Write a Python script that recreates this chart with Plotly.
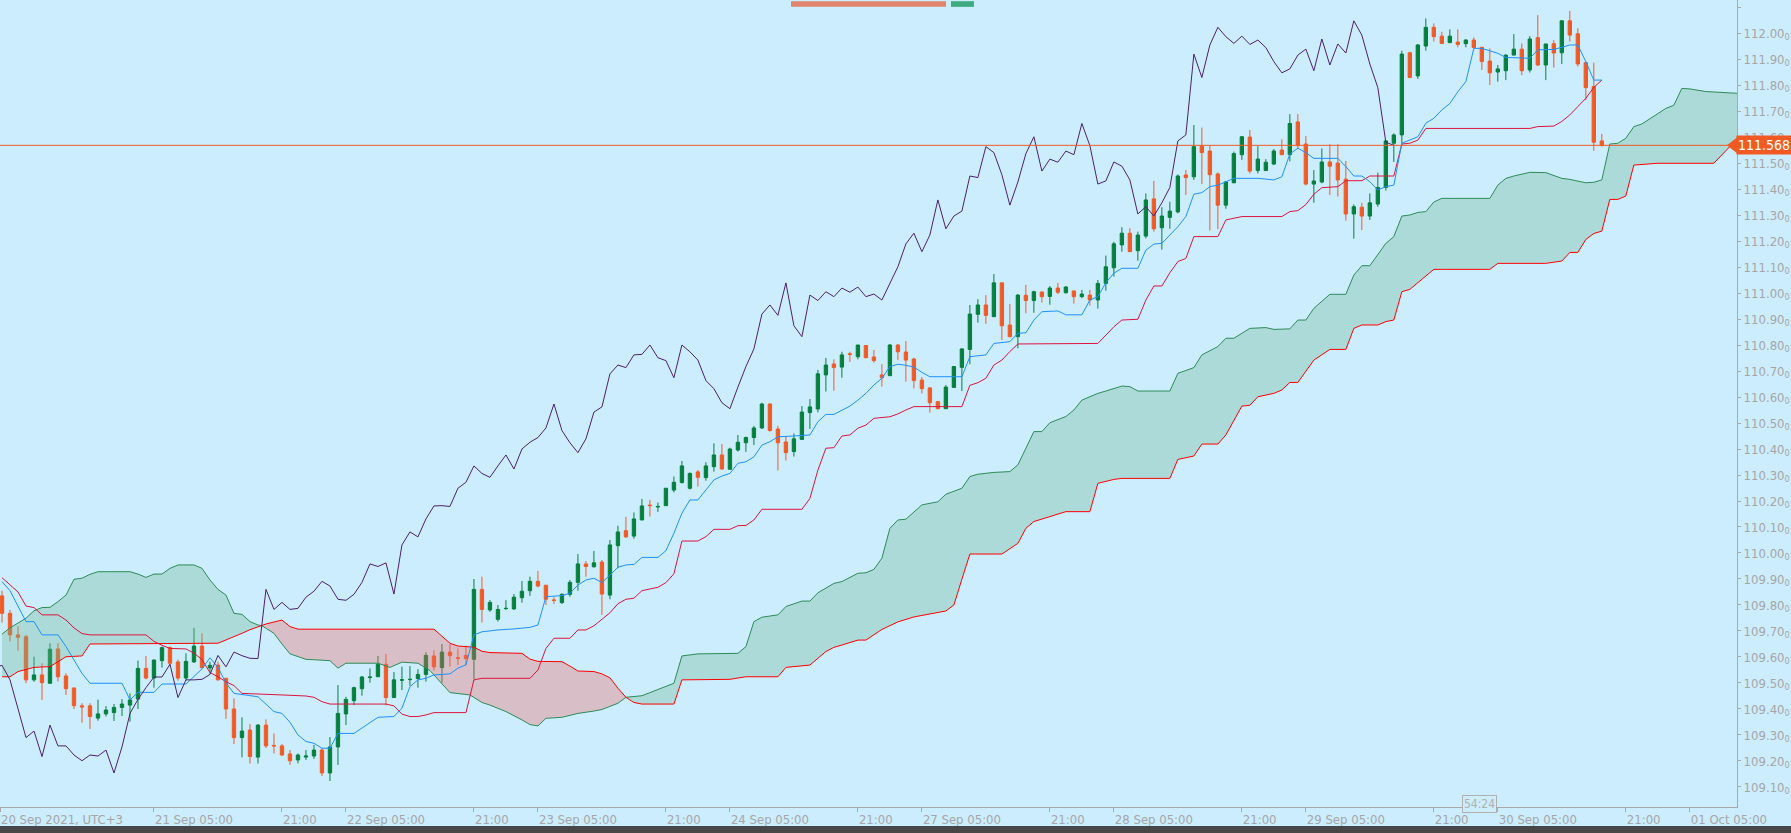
import plotly.graph_objects as go

# USDJPY H1 with Ichimoku, bar index 0 = 20 Sep 2021 10:00 (weekend removed)
bar_open = [
    109.835, 109.768, 109.685, 109.678, 109.512, 109.531, 109.499, 109.631, 109.527, 109.481,
    109.412, 109.412, 109.365, 109.381, 109.386, 109.406, 109.415, 109.438, 109.556, 109.519,
    109.586, 109.636, 109.581, 109.519, 109.581, 109.642, 109.558, 109.569, 109.518, 109.400,
    109.290, 109.319, 109.215, 109.338, 109.260, 109.258, 109.227, 109.204, 109.215, 109.219,
    109.242, 109.154, 109.254, 109.381, 109.432, 109.478, 109.521, 109.524, 109.572, 109.444,
    109.511, 109.513, 109.517, 109.533, 109.604, 109.559, 109.619, 109.597, 109.606, 109.591,
    109.860, 109.781, 109.745, 109.786, 109.785, 109.828, 109.855, 109.891, 109.876, 109.819,
    109.809, 109.841, 109.887, 109.958, 109.947, 109.965, 109.838, 110.028, 110.086, 110.065,
    110.127, 110.184, 110.177, 110.182, 110.242, 110.271, 110.249, 110.312, 110.290, 110.332,
    110.377, 110.322, 110.396, 110.424, 110.444, 110.481, 110.573, 110.477, 110.427, 110.390,
    110.437, 110.540, 110.554, 110.685, 110.727, 110.715, 110.766, 110.755, 110.798, 110.754,
    110.685, 110.682, 110.800, 110.773, 110.746, 110.665, 110.635, 110.582, 110.555, 110.637,
    110.714, 110.783, 110.918, 110.954, 110.909, 111.039, 110.877, 110.832, 110.991, 110.971,
    111.004, 110.987, 111.019, 111.001, 111.008, 110.986, 110.992, 110.973, 111.037, 111.097,
    111.185, 111.230, 111.163, 111.219, 111.362, 111.251, 111.291, 111.312, 111.454, 111.447,
    111.565, 111.546, 111.458, 111.338, 111.424, 111.532, 111.600, 111.471, 111.471, 111.496,
    111.550, 111.532, 111.658, 111.573, 111.419, 111.427, 111.504, 111.500, 111.438, 111.304,
    111.330, 111.296, 111.342, 111.406, 111.576, 111.608, 111.924, 111.835, 111.950, 112.022,
    111.988, 111.963, 111.965, 111.959, 111.973, 111.945, 111.892, 111.850, 111.855, 111.915,
    111.938, 111.858, 111.982, 111.877, 111.959, 111.924, 112.047, 111.997, 111.886, 111.794,
    111.585,
]
bar_high = [
    109.855, 109.781, 109.719, 109.685, 109.601, 109.576, 109.653, 109.653, 109.537, 109.481,
    109.422, 109.422, 109.436, 109.411, 109.419, 109.438, 109.460, 109.586, 109.604, 109.591,
    109.640, 109.640, 109.590, 109.614, 109.712, 109.691, 109.582, 109.582, 109.518, 109.441,
    109.368, 109.342, 109.342, 109.360, 109.306, 109.265, 109.242, 109.229, 109.242, 109.262,
    109.250, 109.292, 109.492, 109.447, 109.486, 109.527, 109.556, 109.604, 109.612, 109.542,
    109.563, 109.565, 109.553, 109.618, 109.626, 109.650, 109.650, 109.633, 109.644, 109.900,
    109.909, 109.819, 109.800, 109.819, 109.842, 109.892, 109.909, 109.931, 109.877, 109.830,
    109.845, 109.896, 109.996, 109.969, 110.008, 109.973, 110.050, 110.105, 110.139, 110.156,
    110.208, 110.204, 110.194, 110.250, 110.294, 110.354, 110.310, 110.319, 110.349, 110.422,
    110.419, 110.405, 110.454, 110.448, 110.489, 110.578, 110.576, 110.489, 110.448, 110.460,
    110.565, 110.592, 110.704, 110.750, 110.745, 110.774, 110.774, 110.800, 110.800, 110.781,
    110.726, 110.804, 110.804, 110.815, 110.751, 110.676, 110.637, 110.585, 110.646, 110.719,
    110.787, 110.954, 110.976, 110.992, 111.073, 111.039, 110.958, 110.996, 111.031, 111.009,
    111.006, 111.027, 111.039, 111.027, 111.008, 111.012, 111.012, 111.050, 111.144, 111.197,
    111.253, 111.249, 111.236, 111.383, 111.431, 111.330, 111.351, 111.456, 111.473, 111.646,
    111.636, 111.567, 111.464, 111.431, 111.544, 111.604, 111.627, 111.565, 111.515, 111.554,
    111.591, 111.688, 111.688, 111.604, 111.473, 111.556, 111.572, 111.572, 111.508, 111.341,
    111.347, 111.383, 111.463, 111.588, 111.614, 111.932, 111.928, 111.958, 112.056, 112.037,
    112.005, 112.014, 112.014, 111.976, 111.983, 111.947, 111.941, 111.877, 111.918, 111.996,
    111.960, 111.988, 112.069, 111.958, 111.973, 112.050, 112.085, 112.018, 111.890, 111.886,
    111.612,
]
bar_low = [
    109.732, 109.659, 109.624, 109.499, 109.505, 109.435, 109.496, 109.506, 109.454, 109.400,
    109.347, 109.323, 109.355, 109.371, 109.354, 109.373, 109.351, 109.400, 109.514, 109.482,
    109.559, 109.565, 109.509, 109.511, 109.578, 109.556, 109.537, 109.510, 109.362, 109.265,
    109.214, 109.190, 109.190, 109.250, 109.229, 109.219, 109.185, 109.191, 109.204, 109.208,
    109.142, 109.123, 109.185, 109.338, 109.415, 109.451, 109.501, 109.524, 109.414, 109.444,
    109.473, 109.489, 109.482, 109.505, 109.548, 109.501, 109.563, 109.569, 109.568, 109.514,
    109.732, 109.774, 109.736, 109.781, 109.781, 109.809, 109.835, 109.868, 109.800, 109.804,
    109.804, 109.832, 109.855, 109.909, 109.944, 109.762, 109.822, 109.941, 110.058, 110.055,
    110.127, 110.140, 110.158, 110.181, 110.233, 110.267, 110.244, 110.255, 110.278, 110.313,
    110.321, 110.321, 110.390, 110.389, 110.415, 110.477, 110.467, 110.317, 110.355, 110.371,
    110.435, 110.477, 110.541, 110.621, 110.624, 110.674, 110.735, 110.745, 110.750, 110.732,
    110.640, 110.681, 110.742, 110.659, 110.633, 110.614, 110.540, 110.553, 110.555, 110.637,
    110.623, 110.726, 110.886, 110.882, 110.909, 110.819, 110.830, 110.787, 110.922, 110.924,
    110.963, 110.955, 110.996, 110.998, 110.959, 110.980, 110.951, 110.940, 111.009, 111.063,
    111.159, 111.159, 111.124, 111.210, 111.236, 111.167, 111.247, 111.306, 111.377, 111.435,
    111.419, 111.240, 111.246, 111.324, 111.422, 111.512, 111.460, 111.460, 111.471, 111.492,
    111.532, 111.506, 111.554, 111.414, 111.347, 111.422, 111.377, 111.371, 111.278, 111.209,
    111.242, 111.281, 111.332, 111.394, 111.504, 111.576, 111.826, 111.823, 111.932, 111.967,
    111.958, 111.963, 111.945, 111.945, 111.941, 111.858, 111.800, 111.813, 111.819, 111.915,
    111.838, 111.848, 111.873, 111.819, 111.867, 111.881, 111.967, 111.871, 111.742, 111.547,
    111.563,
]
bar_close = [
    109.768, 109.685, 109.676, 109.512, 109.531, 109.501, 109.630, 109.524, 109.478, 109.413,
    109.408, 109.371, 109.381, 109.396, 109.406, 109.419, 109.435, 109.556, 109.519, 109.588,
    109.636, 109.576, 109.519, 109.583, 109.642, 109.559, 109.568, 109.512, 109.400, 109.290,
    109.315, 109.217, 109.338, 109.258, 109.258, 109.223, 109.201, 109.223, 109.219, 109.242,
    109.154, 109.254, 109.383, 109.437, 109.482, 109.523, 109.523, 109.572, 109.444, 109.512,
    109.512, 109.514, 109.533, 109.606, 109.562, 109.619, 109.605, 109.595, 109.594, 109.860,
    109.783, 109.810, 109.783, 109.787, 109.830, 109.853, 109.891, 109.873, 109.822, 109.818,
    109.841, 109.887, 109.958, 109.948, 109.962, 109.842, 110.031, 110.081, 110.062, 110.131,
    110.181, 110.182, 110.179, 110.249, 110.272, 110.335, 110.306, 110.291, 110.335, 110.377,
    110.323, 110.400, 110.426, 110.444, 110.481, 110.573, 110.471, 110.424, 110.386, 110.439,
    110.542, 110.562, 110.689, 110.723, 110.713, 110.762, 110.764, 110.800, 110.751, 110.740,
    110.674, 110.800, 110.774, 110.742, 110.663, 110.632, 110.578, 110.555, 110.638, 110.717,
    110.785, 110.919, 110.954, 110.914, 111.039, 110.874, 110.832, 110.992, 110.971, 111.005,
    110.986, 111.019, 111.003, 111.023, 110.986, 110.996, 110.973, 111.037, 111.101, 111.189,
    111.230, 111.159, 111.223, 111.358, 111.247, 111.296, 111.315, 111.450, 111.444, 111.563,
    111.540, 111.455, 111.338, 111.427, 111.536, 111.601, 111.469, 111.515, 111.503, 111.546,
    111.532, 111.652, 111.567, 111.419, 111.431, 111.504, 111.488, 111.435, 111.304, 111.332,
    111.296, 111.347, 111.406, 111.585, 111.608, 111.919, 111.829, 111.954, 112.022, 111.986,
    111.960, 111.988, 111.956, 111.973, 111.944, 111.890, 111.847, 111.862, 111.915, 111.938,
    111.855, 111.977, 111.877, 111.958, 111.923, 112.047, 111.992, 111.881, 111.790, 111.580,
    111.568,
]

# Ichimoku lines (bar index, price)
tenkan_x = [0, 1, 3, 4, 5, 7, 8, 10, 11, 15, 16, 17, 19, 20, 23, 24, 25, 26, 27, 28, 29, 32, 34, 35, 36, 37, 38, 39,
            40, 41, 42, 44, 45, 46, 47, 49, 50, 51, 52, 53, 54, 56, 57, 58, 59, 60, 62, 64, 66, 67, 68, 70, 71, 72,
            73, 74, 75, 76, 77, 78, 79, 80, 82, 83, 84, 85, 86, 87, 88, 89, 90, 91, 92, 93, 94, 95, 96, 97, 99,
            101, 102, 103, 104, 105, 106, 107, 108, 109, 110, 111, 112, 113, 114, 115, 116, 120, 121, 123, 124,
            126, 127, 128, 129, 130, 132, 133, 135, 136, 137, 138, 139, 140, 142, 143, 144, 145, 146, 147, 148,
            149, 150, 151, 152, 154, 157, 159, 160, 161, 162, 163, 164, 167, 168, 169, 170, 171, 172, 173, 174,
            175, 177, 178, 179, 180, 181, 182, 183, 184, 185, 186, 187, 188, 191, 192, 194, 195, 196, 197, 198,
            199, 200]
tenkan_y = [109.890, 109.855, 109.736, 109.736, 109.685, 109.685, 109.640, 109.537, 109.499, 109.499, 109.435,
            109.464, 109.464, 109.496, 109.496, 109.524, 109.554, 109.597, 109.560, 109.500, 109.460, 109.447,
            109.390, 109.383, 109.349, 109.300, 109.275, 109.268, 109.249, 109.249, 109.306, 109.306, 109.326,
            109.345, 109.368, 109.371, 109.403, 109.486, 109.512, 109.518, 109.531, 109.535, 109.557, 109.570,
            109.685, 109.697, 109.704, 109.708, 109.714, 109.723, 109.832, 109.836, 109.845, 109.877, 109.896,
            109.903, 109.886, 109.915, 109.945, 109.954, 109.956, 109.983, 109.983, 110.009, 110.076, 110.153,
            110.204, 110.204, 110.242, 110.281, 110.296, 110.306, 110.345, 110.351, 110.370, 110.415, 110.428,
            110.447, 110.450, 110.454, 110.505, 110.533, 110.533, 110.550, 110.565, 110.588, 110.614, 110.646,
            110.672, 110.717, 110.726, 110.722, 110.715, 110.695, 110.678, 110.678, 110.755, 110.762, 110.806,
            110.813, 110.845, 110.847, 110.896, 110.928, 110.931, 110.916, 110.916, 110.973, 110.986, 111.040,
            111.076, 111.095, 111.095, 111.165, 111.188, 111.191, 111.223, 111.255, 111.294, 111.380, 111.386,
            111.409, 111.415, 111.441, 111.441, 111.435, 111.447, 111.535, 111.557, 111.540, 111.518, 111.518,
            111.486, 111.450, 111.450, 111.428, 111.396, 111.409, 111.415, 111.576, 111.601, 111.653, 111.672,
            111.704, 111.729, 111.774, 111.813, 111.941, 111.941, 111.930, 111.922, 111.906, 111.903, 111.935,
            111.937, 111.945, 111.954, 111.954, 111.890, 111.819, 111.819]

kijun_x = [0, 1, 2, 3, 4, 5, 7, 8, 9, 10, 11, 18, 19, 20, 21, 23, 24, 25, 26, 27, 28, 29, 30, 35, 38, 39, 40, 41,
           48, 49, 50, 51, 52, 53, 54, 58, 59, 60, 66, 67, 68, 69, 71, 72, 73, 74, 75, 76, 77, 78, 79, 80, 82, 83,
           84, 85, 87, 88, 89, 91, 92, 93, 94, 95, 100, 101, 102, 103, 104, 105, 106, 107, 108, 109, 111, 112, 113,
           114, 120, 121, 122, 123, 124, 125, 126, 127, 137, 138, 139, 140, 142, 143, 144, 145, 146, 147, 148, 149,
           152, 153, 155, 160, 161, 162, 163, 164, 165, 167, 168, 170, 171, 174, 175, 176, 177, 178, 191, 192, 194,
           195, 196, 197, 198, 199, 200]
kijun_y = [109.905, 109.877, 109.850, 109.796, 109.790, 109.762, 109.762, 109.742, 109.712, 109.690, 109.685,
           109.685, 109.660, 109.645, 109.633, 109.631, 109.615, 109.590, 109.540, 109.524, 109.505, 109.490,
           109.460, 109.454, 109.450, 109.445, 109.428, 109.419, 109.419, 109.412, 109.380, 109.371, 109.371,
           109.377, 109.386, 109.386, 109.512, 109.518, 109.518, 109.550, 109.633, 109.672, 109.672, 109.704,
           109.704, 109.720, 109.745, 109.770, 109.805, 109.822, 109.826, 109.855, 109.868, 109.886, 109.920,
           110.046, 110.046, 110.063, 110.091, 110.091, 110.105, 110.106, 110.127, 110.168, 110.168, 110.210,
           110.319, 110.403, 110.405, 110.450, 110.454, 110.480, 110.492, 110.518, 110.524, 110.535, 110.550,
           110.563, 110.563, 110.645, 110.655, 110.672, 110.723, 110.742, 110.775, 110.804, 110.806, 110.840,
           110.870, 110.896, 110.899, 110.973, 111.027, 111.027, 111.078, 111.121, 111.133, 111.217, 111.217,
           111.281, 111.294, 111.294, 111.313, 111.317, 111.340, 111.380, 111.405, 111.409, 111.432, 111.432,
           111.450, 111.450, 111.573, 111.576, 111.588, 111.633, 111.633, 111.640, 111.642, 111.660, 111.685,
           111.717, 111.749, 111.791, 111.819]

span_a_x = [0, 1, 3, 4, 5, 6, 7, 8, 9, 10, 11, 12, 16, 17, 18, 19, 20, 21, 22, 24, 25, 26, 27, 28, 29, 30, 31, 32,
            32.5, 34, 35, 36, 38, 41, 42, 43, 47, 48.5, 50, 52, 53.5, 55, 56, 58.5, 60, 61, 63, 65, 66, 67, 68, 70,
            72, 74, 75, 77, 78, 80, 81, 84, 85, 87, 92, 93, 94, 95, 97, 98, 100, 101, 102, 104, 105, 107, 108, 109,
            110, 111, 112, 113, 115, 117, 118, 120, 121, 122, 124, 126, 127, 129, 130, 131, 133, 134, 135, 137,
            138, 140, 141, 142, 146, 147, 149, 150, 152, 153, 154, 156, 158, 159, 161, 162, 163, 164, 166, 168,
            169, 170, 171, 172, 173, 174, 175, 176, 177, 178, 179, 180, 186, 187, 188, 189, 191, 193, 195, 196,
            198, 199, 200, 201, 202, 203, 204, 205, 207, 208, 209, 210, 211, 213, 217]
span_a_y = [109.688, 109.712, 109.749, 109.778, 109.790, 109.791, 109.813, 109.838, 109.899, 109.903, 109.918,
            109.928, 109.928, 109.919, 109.906, 109.919, 109.919, 109.941, 109.954, 109.954, 109.941, 109.896,
            109.860, 109.838, 109.768, 109.764, 109.736, 109.723, 109.720, 109.691, 109.650, 109.612, 109.591,
            109.586, 109.557, 109.576, 109.576, 109.560, 109.580, 109.576, 109.548, 109.499, 109.463, 109.454,
            109.425, 109.415, 109.390, 109.358, 109.340, 109.335, 109.364, 109.368, 109.383, 109.392, 109.398,
            109.422, 109.445, 109.451, 109.463, 109.499, 109.604, 109.612, 109.614, 109.640, 109.736, 109.753,
            109.762, 109.794, 109.815, 109.815, 109.847, 109.883, 109.890, 109.922, 109.924, 109.937, 109.980,
            110.095, 110.127, 110.130, 110.185, 110.197, 110.226, 110.249, 110.294, 110.303, 110.310, 110.313,
            110.339, 110.467, 110.467, 110.501, 110.525, 110.550, 110.588, 110.614, 110.623, 110.642, 110.640,
            110.623, 110.623, 110.691, 110.713, 110.762, 110.794, 110.826, 110.826, 110.864, 110.867, 110.860,
            110.862, 110.896, 110.896, 110.941, 110.995, 110.995, 111.069, 111.105, 111.105, 111.146, 111.191,
            111.217, 111.296, 111.300, 111.310, 111.313, 111.350, 111.364, 111.364, 111.415, 111.441, 111.450,
            111.464, 111.463, 111.441, 111.437, 111.424, 111.426, 111.435, 111.573, 111.576, 111.595, 111.640,
            111.650, 111.690, 111.710, 111.722, 111.787, 111.785, 111.775, 111.768]

span_b_x = [0, 1, 2, 4, 6, 8, 10, 11, 27, 28, 29, 30, 31, 32, 32.5, 33, 35, 36, 37, 54, 55, 56, 57, 59, 60, 61, 65,
            66, 67, 70, 71, 72, 74, 75, 76, 77, 78, 79, 80, 84, 85, 91, 93, 97, 98, 101, 103, 104, 105, 107, 108,
            110, 112, 114, 118, 119, 120, 121, 125, 127, 128, 129, 131, 133, 136, 137, 139, 140, 146, 147, 149,
            150, 152, 153, 155, 156, 157, 159, 160, 161, 162, 164, 166, 168, 169, 170, 172, 173, 174, 175, 176,
            179, 186, 187, 193, 195, 196, 197, 198, 199, 200, 201, 202, 203, 204, 205, 207, 214, 215, 216, 217]
span_b_y = [109.524, 109.524, 109.544, 109.560, 109.563, 109.601, 109.604, 109.650, 109.653, 109.665, 109.680,
            109.691, 109.705, 109.715, 109.720, 109.727, 109.742, 109.717, 109.707, 109.707, 109.680, 109.653,
            109.642, 109.638, 109.622, 109.617, 109.614, 109.592, 109.583, 109.582, 109.565, 109.546, 109.544,
            109.535, 109.520, 109.480, 109.445, 109.425, 109.419, 109.419, 109.512, 109.514, 109.524, 109.524,
            109.560, 109.569, 109.621, 109.637, 109.646, 109.665, 109.665, 109.706, 109.735, 109.754, 109.777,
            109.800, 109.899, 109.996, 109.996, 110.037, 110.095, 110.121, 110.140, 110.159, 110.159, 110.268,
            110.283, 110.287, 110.287, 110.360, 110.373, 110.419, 110.419, 110.454, 110.565, 110.568, 110.601,
            110.614, 110.627, 110.656, 110.656, 110.742, 110.783, 110.783, 110.864, 110.877, 110.877, 110.890,
            110.896, 111.005, 111.014, 111.091, 111.091, 111.114, 111.114, 111.123, 111.156, 111.156, 111.206,
            111.229, 111.238, 111.360, 111.360, 111.373, 111.492, 111.495, 111.499, 111.499, 111.531, 111.563,
            111.585]

# cloud colour changes where the spans cross
cloud_cuts = [0, 32.5, 78, 217]
cloud_colors = ["rgba(113,182,146,0.35)", "rgba(238,105,98,0.35)", "rgba(113,182,146,0.35)"]

chikou_shift = 26
last_price = 111.568

tick_bars = [-0.25, 19, 35, 43, 59, 67, 83, 91, 107, 115, 131, 139, 155, 163, 179, 187, 203, 211]
tick_text = ["20 Sep 2021, UTC+3", "21 Sep 05:00", "21:00", "22 Sep 05:00", "21:00", "23 Sep 05:00", "21:00",
             "24 Sep 05:00", "21:00", "27 Sep 05:00", "21:00", "28 Sep 05:00", "21:00", "29 Sep 05:00", "21:00",
             "30 Sep 05:00", "21:00", "01 Oct 05:00"]
price_ticks = [round(109.1 + 0.1 * k, 2) for k in range(31)]

bg = "#CCEDFD"
axis_grey = "#A9A9A9"
label_font = dict(family="Liberation Sans Narrow, DejaVu Sans Condensed, sans-serif", size=13, color="#A6A6A6")
bars = list(range(len(bar_close)))

fig = go.Figure()
fig.add_trace(go.Candlestick(
    x=bars, open=bar_open, high=bar_high, low=bar_low, close=bar_close,
    increasing=dict(line=dict(color="#04803C", width=1), fillcolor="#04803C"),
    decreasing=dict(line=dict(color="#F25A24", width=1), fillcolor="#F25A24"),
    whiskerwidth=0, hoverinfo="skip",
))

# cloud fills, one polygon per colour segment
for lo, hi, col in zip(cloud_cuts[:-1], cloud_cuts[1:], cloud_colors):
    ax = [x for x in span_a_x if lo <= x <= hi]
    ay = [y for x, y in zip(span_a_x, span_a_y) if lo <= x <= hi]
    bx = [x for x in span_b_x if lo <= x <= hi]
    by = [y for x, y in zip(span_b_x, span_b_y) if lo <= x <= hi]
    fig.add_trace(go.Scatter(x=ax + bx[::-1], y=ay + by[::-1], fill="toself", fillcolor=col,
                             line=dict(width=0), mode="lines", hoverinfo="skip"))

fig.add_trace(go.Scatter(x=span_a_x, y=span_a_y, mode="lines", line=dict(color="#2E8B57", width=1)))
fig.add_trace(go.Scatter(x=span_b_x, y=span_b_y, mode="lines", line=dict(color="#FF0000", width=1)))
fig.add_trace(go.Scatter(x=kijun_x, y=kijun_y, mode="lines", line=dict(color="#DC143C", width=1)))
fig.add_trace(go.Scatter(x=tenkan_x, y=tenkan_y, mode="lines", line=dict(color="#1E90FF", width=1)))
fig.add_trace(go.Scatter(x=[b - chikou_shift for b in bars], y=bar_close, mode="lines",
                         line=dict(color="#4B1F6F", width=1)))

# current price line and tag
fig.add_hline(y=last_price, line=dict(color="#F25A24", width=1))
fig.add_annotation(x=1, xref="paper", y=last_price, yref="y", text=f"{last_price:.3f}", showarrow=False,
                   xanchor="left", xshift=-1, bgcolor="#F25A24", borderpad=1,
                   font=dict(family=label_font["family"], size=14, color="white"))
fig.add_shape(type="path", xref="paper", yref="y", fillcolor="#F25A24", line=dict(width=0),
              path=f"M 0.9942,{last_price} L 1.0,{last_price + 0.03} L 1.0,{last_price - 0.03} Z")

# bar countdown box sitting on the time axis
fig.add_annotation(x=184.75, y=0, yref="paper", yanchor="middle", yshift=3, text="54:24", showarrow=False,
                   bgcolor=bg, bordercolor="#B0B0B0", borderwidth=1, borderpad=1,
                   font=dict(family=label_font["family"], size=12, color="#B0B0B0"))

# window chrome: scroll marker on top, dark strip at the bottom
fig.add_shape(type="rect", xref="paper", yref="paper", x0=0.4554, x1=0.5446, y0=0.9915, y1=0.9985,
              fillcolor="#E0846E", line=dict(width=0))
fig.add_shape(type="rect", xref="paper", yref="paper", x0=0.5475, x1=0.5607, y0=0.9915, y1=0.9985,
              fillcolor="#3DAA80", line=dict(width=0))
fig.add_shape(type="rect", xref="paper", yref="paper", x0=0, x1=1.0311, y0=-0.0323, y1=-0.0236,
              fillcolor="#474747", line=dict(width=0))

fig.update_layout(
    width=1791, height=833, autosize=False,
    margin=dict(l=0, r=54, t=0, b=26),
    plot_bgcolor=bg, paper_bgcolor=bg,
    showlegend=False, boxgap=0.4,
    xaxis=dict(range=[-0.25, 216.9], rangeslider=dict(visible=False), showgrid=False, zeroline=False,
               showline=True, linecolor=axis_grey, ticks="outside", ticklen=4, tickcolor=axis_grey,
               tickvals=tick_bars, ticktext=tick_text, ticklabelposition="outside right", tickangle=0,
               tickfont=label_font),
    yaxis=dict(range=[109.023, 112.127], side="right", showgrid=False, zeroline=False,
               showline=True, linecolor=axis_grey, ticks="outside", ticklen=3, tickcolor=axis_grey,
               tickvals=price_ticks, ticktext=[f"{v:.2f}<sub>0</sub>" for v in price_ticks],
               tickfont=label_font),
)

# page margin off so the chart fills the window
fig.write_html("out.html", config={"displayModeBar": False},
               post_script="document.body.style.margin='0';")
